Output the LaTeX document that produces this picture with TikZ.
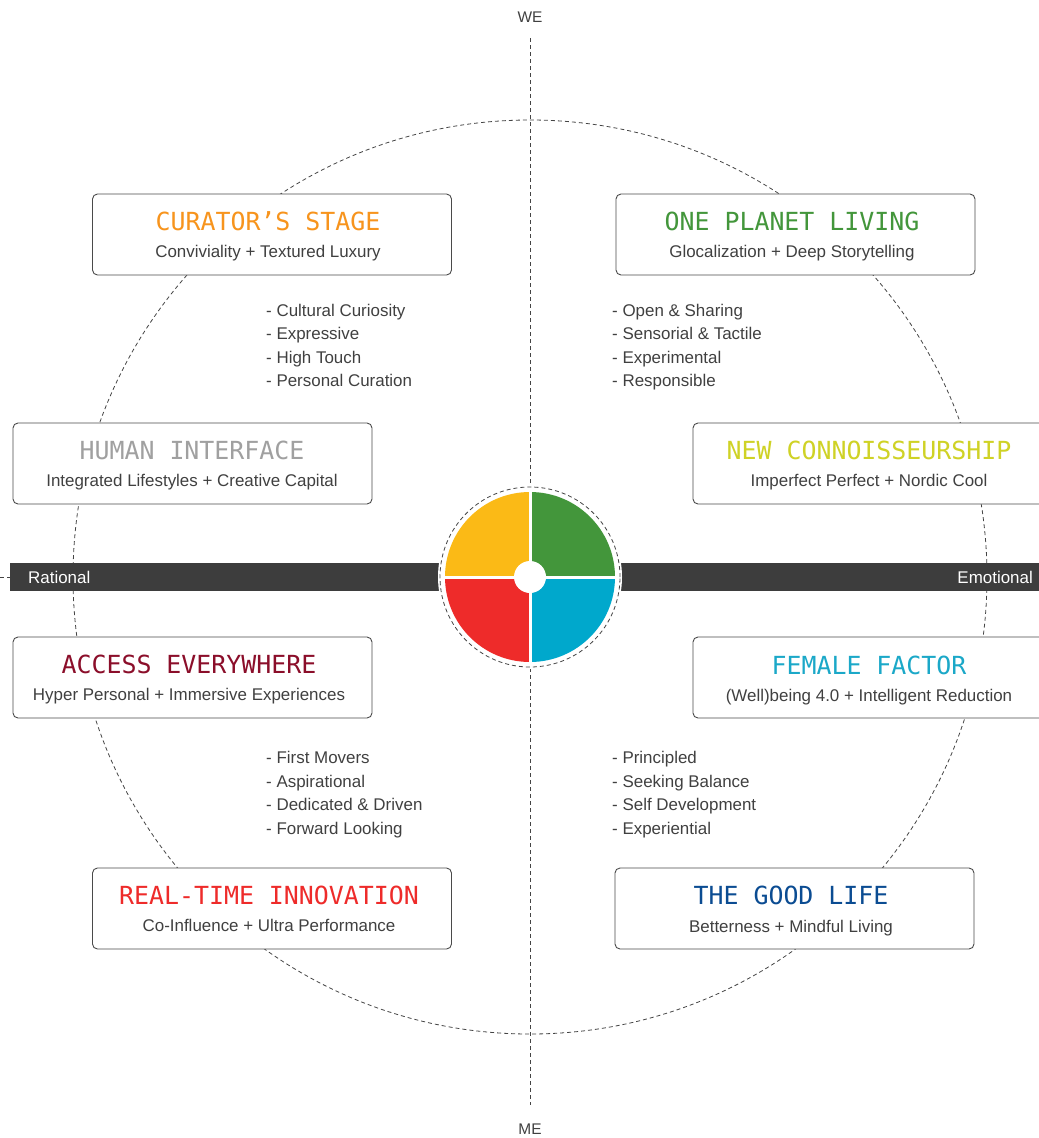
\documentclass[tikz,border=0pt]{standalone}
\usepackage{fontspec}
\setmainfont{Liberation Sans}
\newfontfamily\titlefont{DejaVu Sans Mono}
\definecolor{txt}{HTML}{404040}
\definecolor{barcol}{HTML}{3D3D3D}
\definecolor{axiscol}{HTML}{444444}
\definecolor{boxcol}{HTML}{4A4A4A}
\definecolor{qyellow}{HTML}{FBBA16}
\definecolor{qgreen}{HTML}{43963B}
\definecolor{qred}{HTML}{EE2B2A}
\definecolor{qblue}{HTML}{00A8CC}
\definecolor{torange}{HTML}{F7941D}
\definecolor{tgreen}{HTML}{43963B}
\definecolor{tgray}{HTML}{A0A0A0}
\definecolor{tlime}{HTML}{CFD226}
\definecolor{tdred}{HTML}{8B0E2A}
\definecolor{tcyan}{HTML}{1BA8C8}
\definecolor{tred}{HTML}{EE2B2A}
\definecolor{tblue}{HTML}{0B4C92}
\tikzset{
  axisline/.style={draw=axiscol, line width=0.8bp, dash pattern=on 4bp off 3bp},
  trendbox/.style={draw=boxcol, fill=white, line width=0.9bp, rounded corners=5bp,
    minimum width=359bp, minimum height=81bp, inner sep=0pt},
  trendtitle/.style={font=\titlefont\fontsize{25}{25}\selectfont, anchor=base, inner sep=0pt},
  trendsub/.style={font=\fontsize{17}{17}\selectfont, text=txt, anchor=base, inner sep=0pt},
  listitem/.style={font=\fontsize{17}{17}\selectfont, text=txt, anchor=base west, inner sep=0pt},
  axislabel/.style={font=\fontsize{15.5}{15.5}\selectfont, text=txt, inner sep=0pt},
  barlabel/.style={font=\fontsize{17}{17}\selectfont, text=white, inner sep=0pt}
}
\begin{document}
\begin{tikzpicture}[x=1bp,y=-1bp]
\useasboundingbox (0,0) rectangle (1039,1138);
% axes and big circle
\coordinate (c) at (530,577);
\coordinate (top) at (530,38);
\coordinate (bot) at (530,1105);
\coordinate (lft) at (0,577);
\coordinate (rgt) at (1039,577);
\draw[axisline] (top) -- (bot);
\draw[axisline] (lft) -- (rgt);
\draw[axisline] (c) circle[radius=457bp];
% bar
\fill[barcol] (10,563) rectangle (1039,591);
\node[barlabel, anchor=west] (rational) at (28,577) {Rational};
\node[barlabel, anchor=east] (emotional) at (1033,577) {Emotional};
% axis labels
\node[axislabel] (we) at (530,17) {WE};
\node[axislabel] (me) at (530,1129) {ME};
% wheel
\fill[white] (c) circle[radius=92bp];
\draw[axisline] (c) circle[radius=90bp];
\fill[qyellow] (c) -- (445,577) arc[start angle=180, end angle=90, radius=85bp] -- cycle;
\fill[qgreen] (c) -- (615,577) arc[start angle=0, end angle=90, radius=85bp] -- cycle;
\fill[qred] (c) -- (445,577) arc[start angle=180, end angle=270, radius=85bp] -- cycle;
\fill[qblue] (c) -- (615,577) arc[start angle=0, end angle=-90, radius=85bp] -- cycle;
\draw[white, line width=3bp] (444,577) -- (616,577);
\draw[white, line width=3bp] (530,491) -- (530,663);
\fill[white] (c) circle[radius=16bp];
% boxes
\node[trendbox] (b1) at (272,234.5) {};
\node[trendtitle, text=torange] (t1) at (268,230) {CURATOR’S STAGE};
\node[trendsub] (s1) at (268,257) {Conviviality + Textured Luxury};

\node[trendbox] (b2) at (795.5,234.5) {};
\node[trendtitle, text=tgreen] (t2) at (792,230) {ONE PLANET LIVING};
\node[trendsub] (s2) at (792,257) {Glocalization + Deep Storytelling};

\node[trendbox] (b3) at (192.5,463.5) {};
\node[trendtitle, text=tgray] (t3) at (192,459) {HUMAN INTERFACE};
\node[trendsub] (s3) at (192,486) {Integrated Lifestyles + Creative Capital};

\node[trendbox] (b4) at (872.5,463.5) {};
\node[trendtitle, text=tlime] (t4) at (869,459) {NEW CONNOISSEURSHIP};
\node[trendsub] (s4) at (869,486) {Imperfect Perfect + Nordic Cool};

\node[trendbox] (b5) at (192.5,677.5) {};
\node[trendtitle, text=tdred] (t5) at (189,673) {ACCESS EVERYWHERE};
\node[trendsub] (s5) at (189,700) {Hyper Personal + Immersive Experiences};

\node[trendbox] (b6) at (872.5,677.5) {};
\node[trendtitle, text=tcyan] (t6) at (869,674) {FEMALE FACTOR};
\node[trendsub] (s6) at (869,701) {(Well)being 4.0 + Intelligent Reduction};

\node[trendbox] (b7) at (272,908.5) {};
\node[trendtitle, text=tred] (t7) at (269,904) {REAL-TIME INNOVATION};
\node[trendsub] (s7) at (269,931) {Co-Influence + Ultra Performance};

\node[trendbox] (b8) at (794.5,908.5) {};
\node[trendtitle, text=tblue] (t8) at (791,904) {THE GOOD LIFE};
\node[trendsub] (s8) at (791,932) {Betterness + Mindful Living};
% lists
\node[listitem] (l1a) at (266,316) {- Cultural Curiosity};
\node[listitem] (l1b) at (266,339) {- Expressive};
\node[listitem] (l1c) at (266,363) {- High Touch};
\node[listitem] (l1d) at (266,386) {- Personal Curation};

\node[listitem] (l2a) at (612,316) {- Open \& Sharing};
\node[listitem] (l2b) at (612,339) {- Sensorial \& Tactile};
\node[listitem] (l2c) at (612,363) {- Experimental};
\node[listitem] (l2d) at (612,386) {- Responsible};

\node[listitem] (l3a) at (266,763) {- First Movers};
\node[listitem] (l3b) at (266,787) {- Aspirational};
\node[listitem] (l3c) at (266,810) {- Dedicated \& Driven};
\node[listitem] (l3d) at (266,834) {- Forward Looking};

\node[listitem] (l4a) at (612,763) {- Principled};
\node[listitem] (l4b) at (612,787) {- Seeking Balance};
\node[listitem] (l4c) at (612,810) {- Self Development};
\node[listitem] (l4d) at (612,834) {- Experiential};
\end{tikzpicture}
\end{document}
